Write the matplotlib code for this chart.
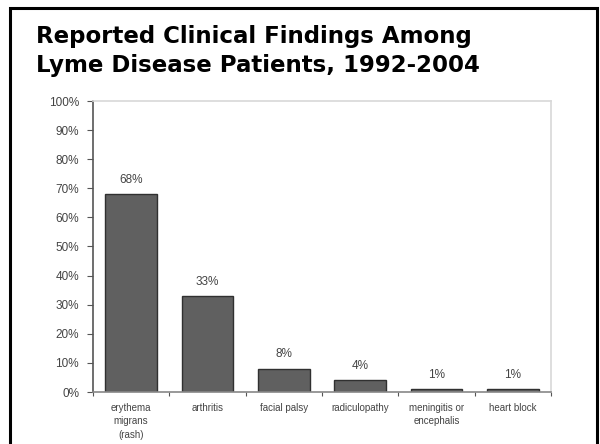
import matplotlib
matplotlib.use("Agg")
import matplotlib.pyplot as plt
from matplotlib.patches import Rectangle
from matplotlib.ticker import MultipleLocator, FixedLocator

# Hallazgos clínicos reportados (porcentaje de pacientes)
categorias = ["erythema\nmigrans\n(rash)", "arthritis", "facial palsy",
              "radiculopathy", "meningitis or\nencephalis", "heart block"]
porcentajes = [68, 33, 8, 4, 1, 1]
etiquetas = ["68%", "33%", "8%", "4%", "1%", "1%"]

fig = plt.figure(figsize=(6, 4.44), dpi=100)
fig.patch.set_facecolor("white")

# Marco negro alrededor de la diapositiva
marco = Rectangle((10 / 600, -0.05), 587 / 600, 1 - 8 / 444 + 0.05,
                  transform=fig.transFigure, fill=False,
                  edgecolor="black", linewidth=2.2)
fig.patches.append(marco)

titulo = ["Reported Clinical Findings Among", "Lyme Disease Patients, 1992-2004"]
for i, linea in enumerate(titulo):
    fig.text(36 / 600, 1 - (43 + 29 * i) / 444, linea,
             fontsize=16.5, fontweight="bold", family="DejaVu Sans",
             ha="left", va="baseline", color="black")

ax = fig.add_axes([93 / 600, 52 / 444, 458 / 600, 291 / 444])
x = list(range(len(categorias)))
ax.bar(x, porcentajes, width=0.68, color="#606060", edgecolor="#303030", linewidth=1.0)

for xi, v, lab in zip(x, porcentajes, etiquetas):
    ax.annotate(lab, (xi, v), xytext=(0, 6), textcoords="offset points",
                ha="center", va="bottom", fontsize=8.5, color="#444444",
                family="Liberation Sans")

ax.set_xlim(-0.5, len(categorias) - 0.5)
ax.set_ylim(0, 100)
ax.yaxis.set_major_locator(MultipleLocator(10))
ax.set_yticklabels([f"{int(t)}%" for t in ax.get_yticks()])
ax.set_xticks(x)
ax.set_xticklabels(categorias)
ax.xaxis.set_minor_locator(FixedLocator([i + 0.5 for i in range(-1, len(categorias))]))

ax.tick_params(axis="y", length=4, width=0.8, color="#555555", labelsize=8.5,
               labelcolor="#444444", pad=6)
ax.tick_params(axis="x", which="major", length=0, labelsize=7,
               labelcolor="#444444", pad=8)
ax.tick_params(axis="x", which="minor", length=3, width=0.8, color="#555555")
for t in ax.get_xticklabels() + ax.get_yticklabels():
    t.set_family("Liberation Sans")
for t in ax.get_xticklabels():
    t.set_linespacing(1.4)

ax.spines["left"].set_color("#555555")
ax.spines["bottom"].set_color("#888888")
ax.spines["top"].set_color("#d8d8d8")
ax.spines["right"].set_color("#d8d8d8")
for s in ax.spines.values():
    s.set_linewidth(1.2)

fig.savefig("out.png", dpi=100, facecolor="white")
